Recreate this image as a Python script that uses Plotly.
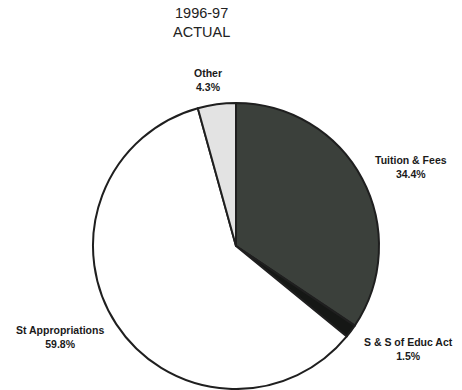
import plotly.graph_objects as go

# Revenue sources, 1996-97 actual
sources = ["Tuition & Fees", "S & S of Educ Act", "St Appropriations", "Other"]
shares = [34.4, 1.5, 59.8, 4.3]
slice_colors = ["#3b403b", "#151715", "#ffffff", "#e3e3e3"]

# label anchor points in pixels (x, y from top) for each source
label_pos = [(411, 167), (408, 349), (60, 337), (208, 80)]

W, H = 462, 390

fig = go.Figure(
    go.Pie(
        labels=sources,
        values=shares,
        sort=False,
        direction="clockwise",
        rotation=0,
        marker=dict(colors=slice_colors, line=dict(color="#1f1f1f", width=2)),
        textinfo="none",
        hoverinfo="label+percent",
        showlegend=False,
        domain=dict(x=[92 / W, 380 / W], y=[1 - 389 / H, 1 - 103 / H]),
    )
)

label_font = dict(family="Liberation Sans, Arial, sans-serif", size=10.5, color="#1a1a1a")
for name, val, (px, py) in zip(sources, shares, label_pos):
    fig.add_annotation(
        x=px / W, y=1 - py / H, xref="paper", yref="paper",
        text=f"<b>{name}<br>{val:.1f}%</b>",
        showarrow=False, xanchor="center", yanchor="middle",
        align="center", font=label_font,
    )

fig.add_annotation(
    x=201 / W, y=1 - 22 / H, xref="paper", yref="paper",
    text="1996-97<br>ACTUAL",
    showarrow=False, xanchor="center", yanchor="middle", align="center",
    font=dict(family="Liberation Sans, Arial, sans-serif", size=14.5, color="#222222"),
)

fig.update_layout(
    width=W, height=H,
    margin=dict(l=0, r=0, t=0, b=0),
    paper_bgcolor="white", plot_bgcolor="white",
)

fig.write_html("out.html")
